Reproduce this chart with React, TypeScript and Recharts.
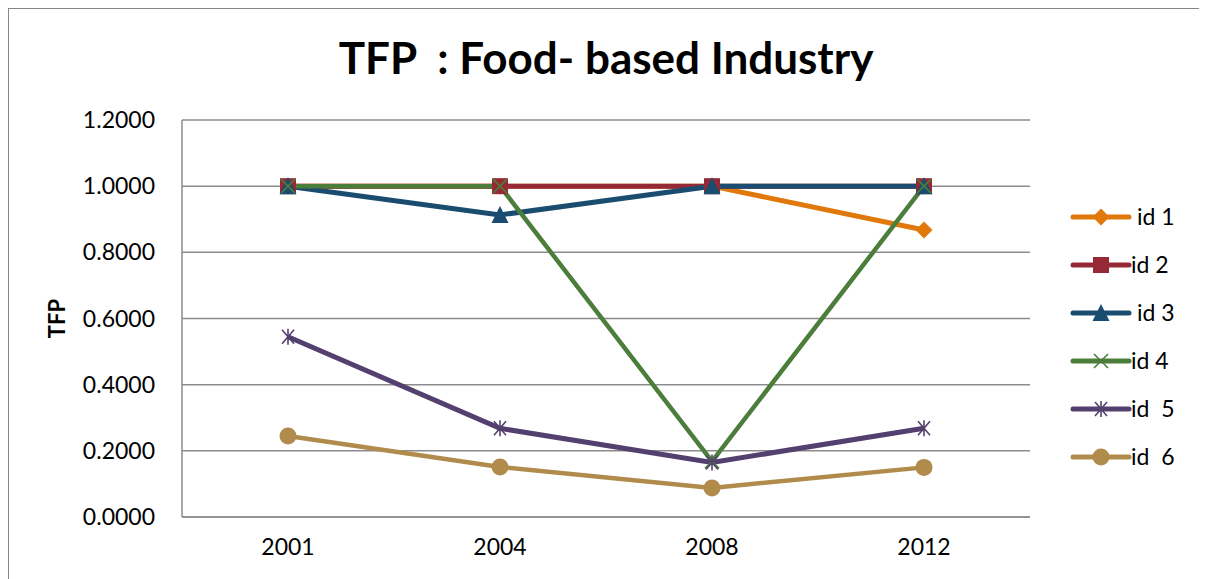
import React from 'react';
import { LineChart, Line, XAxis, YAxis, CartesianGrid, Label } from 'recharts';

const years = ['2001', '2004', '2008', '2012'];
const id1 = [1.0, 1.0, 1.0, 0.8675];
const id2 = [1.0, 1.0, 1.0, 1.0];
const id3 = [1.0, 0.913, 1.0, 1.0];
const id4 = [1.0, 1.0, 0.168, 1.0];
const id5 = [0.545, 0.268, 0.165, 0.268];
const id6 = [0.245, 0.151, 0.088, 0.15];
const yTicks = [0, 0.2, 0.4, 0.6, 0.8, 1.0, 1.2];

type Shape = 'diamond' | 'square' | 'triangle' | 'x' | 'star' | 'circle';

const series: { key: string; name: string; color: string; shape: Shape; values: number[]; width: number }[] = [
  { key: 'id1', name: ' id 1', color: '#E0780C', shape: 'diamond', values: id1, width: 5 },
  { key: 'id2', name: 'id 2', color: '#952A36', shape: 'square', values: id2, width: 5 },
  { key: 'id3', name: ' id 3', color: '#1A4C70', shape: 'triangle', values: id3, width: 5 },
  { key: 'id4', name: 'id 4', color: '#4A7E3A', shape: 'x', values: id4, width: 4.5 },
  { key: 'id5', name: 'id  5', color: '#54406E', shape: 'star', values: id5, width: 5 },
  { key: 'id6', name: 'id  6', color: '#B08B4C', shape: 'circle', values: id6, width: 4.5 },
];

const data = years.map((year, i) => {
  const row: Record<string, string | number> = { year };
  series.forEach(s => {
    row[s.key] = s.values[i];
  });
  return row;
});

function Marker({ shape, color, cx, cy }: { shape: Shape; color: string; cx: number; cy: number }) {
  switch (shape) {
    case 'diamond':
      return <polygon points={`${cx},${cy - 8.5} ${cx + 8.5},${cy} ${cx},${cy + 8.5} ${cx - 8.5},${cy}`} fill={color} />;
    case 'square':
      return <rect x={cx - 8} y={cy - 8} width={16} height={16} fill={color} />;
    case 'triangle':
      return <polygon points={`${cx},${cy - 9} ${cx + 8.5},${cy + 8} ${cx - 8.5},${cy + 8}`} fill={color} />;
    case 'x':
      return (
        <g stroke={color} strokeWidth={1.6}>
          <line x1={cx - 7} y1={cy - 7} x2={cx + 7} y2={cy + 7} />
          <line x1={cx - 7} y1={cy + 7} x2={cx + 7} y2={cy - 7} />
        </g>
      );
    case 'star':
      return (
        <g stroke={color} strokeWidth={1.6}>
          <line x1={cx - 6} y1={cy - 7} x2={cx + 6} y2={cy + 7} />
          <line x1={cx - 6} y1={cy + 7} x2={cx + 6} y2={cy - 7} />
          <line x1={cx} y1={cy - 8} x2={cx} y2={cy + 8} />
        </g>
      );
    default:
      return <circle cx={cx} cy={cy} r={8.5} fill={color} />;
  }
}

const makeDot = (shape: Shape, color: string) => (props: any) => (
  <Marker key={`${shape}-${props.index}`} shape={shape} color={color} cx={props.cx} cy={props.cy} />
);

const fontFamily = 'Lato, "Open Sans", sans-serif';

// legend: a column of line+marker samples at the right of the plot
function LegendBox() {
  return (
    <svg width={125} height={290} style={{ position: 'absolute', left: 1062, top: 198, overflow: 'visible' }}>
      {series.map((s, i) => {
        const y = 10 + i * 48;
        return (
          <g key={s.key}>
            <line x1={2} y1={y} x2={58} y2={y} stroke={s.color} strokeWidth={5} strokeLinecap="round" />
            <Marker shape={s.shape} color={s.color} cx={30} cy={y} />
            <text x={60} y={y} dy="0.36em" fontSize={23} fill="#000" style={{ whiteSpace: 'pre' }}>
              {s.name}
            </text>
          </g>
        );
      })}
    </svg>
  );
}

export default function App() {
  return (
    <div
      style={{
        position: 'relative',
        width: 1196,
        height: 600,
        border: '1px solid #868686',
        boxSizing: 'border-box',
        fontFamily,
        background: '#fff',
      }}
    >
      <style>{'body{overflow:hidden}'}</style>
      <div
        style={{
          position: 'absolute',
          left: 0,
          width: 1194,
          top: 26,
          textAlign: 'center',
          fontSize: 44,
          fontWeight: 700,
          whiteSpace: 'pre',
          lineHeight: '44px',
        }}
      >
        {'TFP  : Food- based Industry'}
      </div>
      <LineChart
        width={1194}
        height={570}
        data={data}
        margin={{ top: 111, right: 173, bottom: 32, left: 83 }}
        style={{ fontFamily }}
      >
        <CartesianGrid vertical={false} stroke="#8C8C8C" strokeWidth={1.5} />
        <XAxis
          dataKey="year"
          padding={{ left: 106, right: 106 }}
          axisLine={{ stroke: '#8C8C8C', strokeWidth: 1.5 }}
          tickLine={false}
          tickSize={0}
          tickMargin={22}
          height={30}
          tick={{ fontSize: 23, fill: '#000' }}
        />
        <YAxis
          domain={[0, 1.2]}
          ticks={yTicks}
          width={90}
          axisLine={{ stroke: '#8C8C8C', strokeWidth: 1.5 }}
          tickLine={false}
          tickSize={0}
          tickMargin={27}
          tick={{ fontSize: 23, fill: '#000' }}
          tickFormatter={(v: number) => v.toFixed(4)}
        >
          <Label
            content={({ viewBox }: any) => {
              const x = viewBox.x - 35;
              const y = viewBox.y + viewBox.height / 2;
              return (
                <text
                  x={x}
                  y={y}
                  transform={`rotate(-90 ${x} ${y})`}
                  textAnchor="middle"
                  dy="0.36em"
                  fontSize={22}
                  fontWeight={700}
                  fill="#000"
                >
                  TFP
                </text>
              );
            }}
          />
        </YAxis>
        {series.map(s => (
          <Line
            key={s.key}
            type="linear"
            dataKey={s.key}
            name={s.name}
            stroke={s.color}
            strokeWidth={s.width}
            dot={makeDot(s.shape, s.color)}
            activeDot={false}
            isAnimationActive={false}
          />
        ))}
      </LineChart>
      <LegendBox />
    </div>
  );
}
